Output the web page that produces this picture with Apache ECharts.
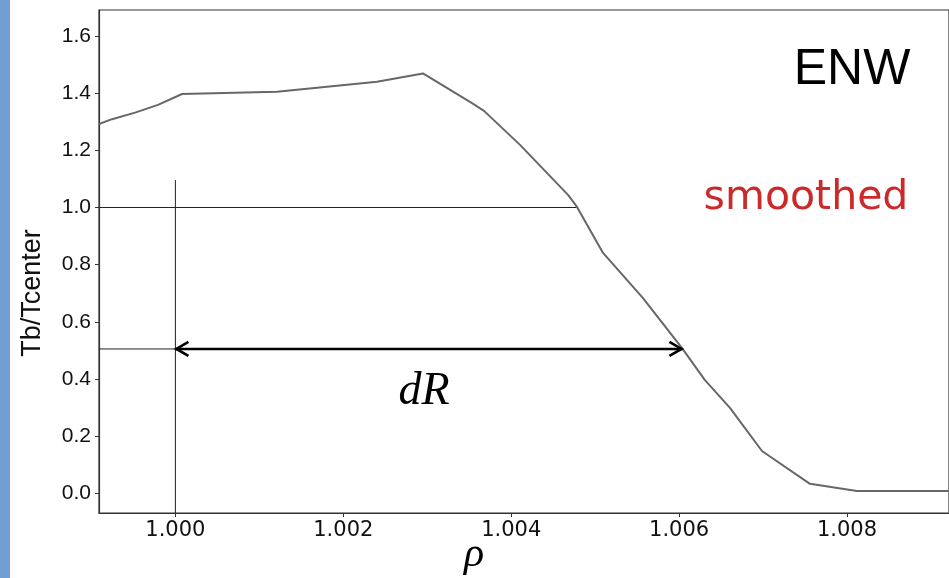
<!DOCTYPE html>
<html>
<head>
<meta charset="utf-8">
<script src="https://cdn.jsdelivr.net/npm/echarts@6/dist/echarts.min.js"></script>
<style>
html,body{margin:0;padding:0;background:#fff;}
#main{width:949px;height:578px;}
</style>
</head>
<body>
<div id="main"></div>
<script>
// ---- data ----
var rho = [0.99909, 0.999245, 0.999519, 0.999793, 1.000079, 1.00121, 1.002401, 1.002949,
           1.003533, 1.003676, 1.004105, 1.004677, 1.004784, 1.005094, 1.00557, 1.006035,
           1.006308, 1.006606, 1.006987, 1.007559, 1.008119, 1.009215];
var tbRatio = [1.292, 1.309, 1.332, 1.359, 1.397, 1.405, 1.440, 1.469,
               1.365, 1.338, 1.219, 1.044, 1.002, 0.841, 0.683, 0.508,
               0.396, 0.299, 0.148, 0.033, 0.008, 0.008];
var xTicks = [1.000, 1.002, 1.004, 1.006, 1.008];
var yTicks = [0.0, 0.2, 0.4, 0.6, 0.8, 1.0, 1.2, 1.4, 1.6];
var xRange = [0.99909, 1.009215];
var yRange = [-0.069, 1.691];
// annotation guides
var levelOne = [[0.99909, 1.0], [1.00478, 1.0]];
var levelHalf = [[0.99909, 0.505], [1.000, 0.505]];
var rhoZero = [[1.000, 1.096], [1.000, -0.069]];
var dRArrow = [[1.000, 0.505], [1.00604, 0.505]];

var chart = echarts.init(document.getElementById('main'), null, {renderer: 'canvas'});

var option = {
  backgroundColor: '#ffffff',
  animation: false,
  grid: {
    left: 99, top: 10, right: -3, bottom: 65,
    show: true, borderColor: '#333', borderWidth: 1.2, backgroundColor: 'transparent'
  },
  xAxis: {
    type: 'value', min: xRange[0], max: xRange[1],
    axisLine: {show: true, onZero: false, lineStyle: {color: '#333', width: 1.2}},
    axisTick: {show: true, length: 4, inside: false, customValues: xTicks, lineStyle: {color: '#333'}},
    axisLabel: {
      customValues: xTicks, margin: 7, color: '#111',
      fontFamily: 'DejaVu Sans', fontSize: 21,
      formatter: function (v) { return v.toFixed(3); }
    },
    splitLine: {show: false}
  },
  yAxis: {
    type: 'value', min: yRange[0], max: yRange[1],
    axisLine: {show: true, onZero: false, lineStyle: {color: '#333', width: 1.2}},
    axisTick: {show: true, length: 4, inside: false, customValues: yTicks, lineStyle: {color: '#333'}},
    axisLabel: {
      customValues: yTicks, margin: 8, color: '#111',
      fontFamily: 'Liberation Sans', fontSize: 21,
      formatter: function (v) { return v.toFixed(1); }
    },
    splitLine: {show: false}
  },
  series: [
    {
      type: 'line', name: 'ENW smoothed',
      data: rho.map(function (r, i) { return [r, tbRatio[i]]; }),
      showSymbol: false, symbol: 'none', smooth: false,
      lineStyle: {color: '#676767', width: 2}, z: 5
    },
    {
      type: 'line', data: levelOne, showSymbol: false, symbol: 'none',
      lineStyle: {color: '#222', width: 1}, z: 3
    },
    {
      type: 'line', data: levelHalf, showSymbol: false, symbol: 'none',
      lineStyle: {color: '#222', width: 1}, z: 3
    },
    {
      type: 'line', data: rhoZero, showSymbol: false, symbol: 'none',
      lineStyle: {color: '#222', width: 1}, z: 3
    },
    {
      type: 'custom', z: 6,
      data: [[dRArrow[0][0], dRArrow[0][1], dRArrow[1][0], dRArrow[1][1]]],
      renderItem: function (params, api) {
        var a = api.coord([api.value(0), api.value(1)]);
        var b = api.coord([api.value(2), api.value(3)]);
        var hx = 13, hy = 7;
        var style = {stroke: '#000', lineWidth: 2.6, fill: null};
        return {
          type: 'group',
          children: [
            {type: 'line', shape: {x1: a[0], y1: a[1], x2: b[0], y2: b[1]}, style: style},
            {type: 'polyline', shape: {points: [[a[0] + hx, a[1] - hy], [a[0] + 1, a[1]], [a[0] + hx, a[1] + hy]]}, style: style},
            {type: 'polyline', shape: {points: [[b[0] - hx, b[1] - hy], [b[0] - 1, b[1]], [b[0] - hx, b[1] + hy]]}, style: style}
          ]
        };
      }
    }
  ],
  graphic: [
    {type: 'rect', left: 0, top: 0, shape: {x: 0, y: 0, width: 10, height: 578}, style: {fill: '#729fd3'}, z: 100},
    {type: 'text', x: 852, y: 70, style: {text: 'ENW', fontFamily: 'Liberation Sans', fontSize: 50, fill: '#000', align: 'center', verticalAlign: 'middle'}},
    {type: 'text', x: 806, y: 198, style: {text: 'smoothed', fontFamily: 'DejaVu Sans', fontSize: 41, fill: '#cc2a2a', align: 'center', verticalAlign: 'middle'}},
    {type: 'text', x: 424, y: 392, style: {text: 'dR', fontFamily: 'Liberation Serif', fontStyle: 'italic', fontSize: 46, fill: '#000', align: 'center', verticalAlign: 'middle'}},
    {type: 'text', x: 474, y: 555, style: {text: 'ρ', fontFamily: 'Liberation Serif', fontStyle: 'italic', fontSize: 42, fill: '#000', align: 'center', verticalAlign: 'middle'}},
    {type: 'text', x: 33, y: 293, rotation: Math.PI / 2, style: {text: 'Tb/Tcenter', fontFamily: 'Liberation Sans', fontSize: 27, fill: '#111', align: 'center', verticalAlign: 'middle'}}
  ]
};
chart.setOption(option);
</script>
</body>
</html>
